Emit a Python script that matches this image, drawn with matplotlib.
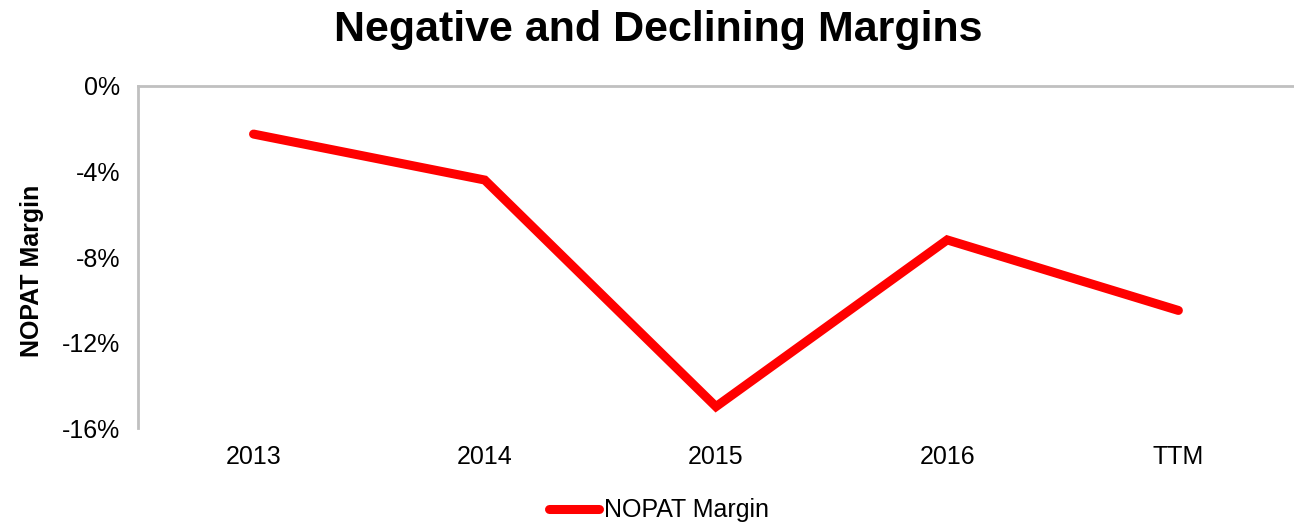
import matplotlib.pyplot as plt
from matplotlib.ticker import FuncFormatter

plt.rcParams['font.family'] = ['Liberation Sans', 'DejaVu Sans']

# Data
periods = ['2013', '2014', '2015', '2016', 'TTM']
nopat_margin = [-2.25, -4.4, -15.0, -7.2, -10.5]  # percent

fig = plt.figure(figsize=(12.94, 5.23), dpi=100)
ax = fig.add_axes([0.1066, 0.1816, 0.8934, 0.654])

x = list(range(len(periods)))
ax.plot(x, nopat_margin, color='#ff0000', linewidth=6.5, solid_capstyle='round',
        solid_joinstyle='miter', label='NOPAT Margin', zorder=3)

ax.set_xlim(-0.5, len(periods) - 0.5)
ax.set_ylim(-16, 0)
ax.set_yticks([0, -4, -8, -12, -16])
ax.yaxis.set_major_formatter(FuncFormatter(lambda v, p: f"{v:.0f}%"))
ax.set_xticks(x)
ax.set_xticklabels(periods)
ax.tick_params(axis='both', length=0, labelsize=18, colors='black')
ax.tick_params(axis='x', pad=12)
ax.tick_params(axis='y', pad=13)

for s in ['bottom', 'right']:
    ax.spines[s].set_visible(False)
for s in ['top', 'left']:
    ax.spines[s].set_color('#c0c0c0')
    ax.spines[s].set_linewidth(2)

ax.set_ylabel('NOPAT Margin', fontsize=18, fontweight='bold')
ax.yaxis.set_label_coords(-0.081, 0.46)

fig.suptitle('Negative and Declining Margins', fontsize=31, fontweight='bold',
             x=0.509, y=0.98)

leg = fig.legend(loc='lower center', bbox_to_anchor=(0.509, -0.042), frameon=False,
                 fontsize=18, handlelength=2.0, handletextpad=0.2)

fig.savefig('out.png', dpi=100)
